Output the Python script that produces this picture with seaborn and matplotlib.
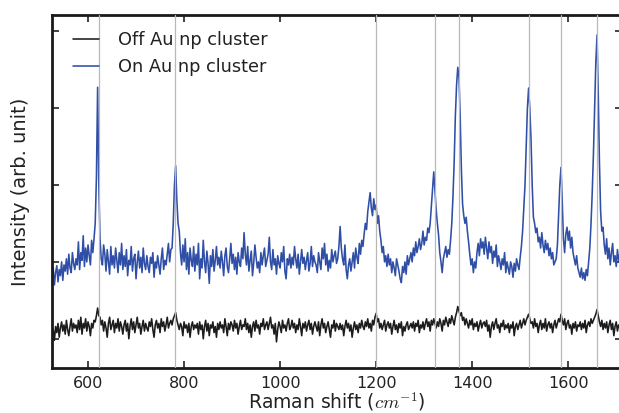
import numpy as np
import pandas as pd
import matplotlib
matplotlib.use("Agg")
import matplotlib.pyplot as plt
import seaborn as sns

# Raman shift grid (cm^-1), 2.5 cm^-1 steps
shift = np.arange(525, 1710.1, 2.5)

# Spectrum recorded on the Au nanoparticle cluster (arb. units)
on_cluster = [
    78, 92, 70, 86, 95, 74, 90, 82, 100, 76, 96, 88, 104, 84, 110, 92, 86, 112, 98, 90,
    104, 96, 126, 90, 112, 102, 134, 94, 118, 100, 122, 108, 96, 128, 112, 130, 150, 210, 327, 200,
    130, 104, 96, 122, 110, 88, 116, 100, 84, 120, 96, 108, 92, 118, 102, 86, 112, 96, 124, 90,
    108, 94, 116, 82, 102, 96, 120, 88, 104, 110, 78, 100, 114, 92, 106, 86, 118, 98, 90, 108,
    94, 86, 106, 98, 112, 80, 100, 92, 108, 96, 84, 104, 118, 90, 102, 96, 110, 124, 100, 116,
    118, 150, 200, 225, 180, 150, 140, 112, 96, 122, 100, 130, 90, 112, 84, 118, 102, 94, 120, 88,
    110, 96, 124, 78, 104, 92, 128, 100, 86, 114, 98, 72, 108, 94, 116, 88, 102, 120, 96, 106,
    92, 114, 100, 82, 108, 118, 94, 86, 104, 124, 98, 110, 90, 106, 84, 112, 100, 94, 118, 104,
    138, 110, 96, 120, 88, 102, 114, 82, 98, 122, 106, 92, 100, 86, 112, 96, 108, 118, 94, 102,
    110, 132, 100, 90, 116, 96, 104, 84, 108, 98, 92, 112, 100, 120, 88, 78, 104, 96, 110, 92,
    106, 96, 120, 104, 92, 110, 84, 100, 116, 98, 106, 90, 102, 112, 88, 98, 120, 94, 108, 100,
    96, 86, 112, 100, 90, 118, 104, 124, 96, 110, 88, 102, 92, 116, 100, 108, 114, 98, 104, 120,
    146, 118, 104, 96, 122, 90, 78, 96, 104, 88, 100, 112, 92, 118, 106, 98, 124, 110, 128, 120,
    136, 150, 142, 165, 178, 190, 170, 160, 182, 168, 174, 150, 160, 140, 128, 112, 120, 100, 108, 94,
    110, 96, 104, 86, 100, 92, 82, 104, 96, 88, 78, 73, 94, 86, 100, 84, 108, 96, 104, 112,
    100, 118, 108, 126, 112, 120, 130, 116, 124, 140, 122, 132, 128, 144, 138, 150, 172, 196, 217, 192,
    168, 150, 135, 112, 100, 86, 104, 112, 120, 106, 116, 110, 128, 150, 185, 230, 290, 330, 353, 340,
    290, 220, 175, 160, 150, 158, 140, 126, 110, 96, 104, 86, 100, 92, 112, 124, 108, 130, 118, 126,
    110, 132, 118, 104, 126, 112, 120, 98, 114, 106, 122, 94, 108, 100, 90, 104, 96, 112, 86, 100,
    92, 84, 100, 94, 80, 98, 88, 104, 96, 90, 106, 120, 140, 170, 200, 250, 300, 326, 300, 260,
    200, 158, 150, 138, 144, 126, 132, 118, 138, 122, 112, 128, 116, 124, 108, 118, 104, 112, 96, 100,
    104, 122, 160, 200, 223, 180, 130, 112, 136, 145, 128, 140, 118, 132, 112, 104, 96, 108, 92, 86,
    80, 92, 78, 86, 76, 90, 82, 100, 118, 150, 190, 240, 300, 360, 395, 320, 230, 165, 140, 145,
    122, 110, 130, 104, 118, 96, 112, 124, 100, 108, 94, 116, 102, 110, 98,
]

# Spectrum recorded away from the cluster (arb. units)
off_cluster = [
    4, 12, -2, 16, 8, 20, 2, 14, 22, 10, 18, 6, 24, 12, 4, 16, 26, 10, 20, 14,
    18, 8, 24, 12, 28, 6, 20, 14, 26, 10, 22, 16, 4, 20, 14, 24, 22, 30, 40, 30,
    28, 18, 24, 10, 22, 14, 2, 20, 28, 12, 18, 24, 8, 20, 14, 26, 10, 22, 16, 6,
    18, 24, 10, 20, 0, 16, 26, 12, 22, 8, 18, 28, 14, 20, 6, 16, 24, 10, 20, 14,
    10, 22, 16, 26, 12, 2, 18, 24, 14, 20, 8, 26, 16, 22, 10, 18, 28, 14, 20, 24,
    18, 26, 30, 34, 24, 18, 12, 20, 16, 4, 22, 14, 18, 8, 20, 2, 16, 22, 12, 18,
    14, 20, 6, 22, 12, 18, 0, 16, 24, 10, 20, 4, 18, 14, 22, 8, 16, 2, 20, 12,
    22, 14, 18, 8, 26, 16, 4, 20, 12, 22, 18, 10, 24, 14, 20, 6, 16, 24, 12, 18,
    16, 26, 12, 20, 8, 18, 2, 16, 22, 10, 24, 14, 18, 6, 20, 16, 26, 12, 18, 22,
    12, 20, 28, 14, 18, 6, 20, -4, 12, 22, 16, 8, 24, 14, 18, 10, 20, 26, 12, 16,
    24, 14, 20, 8, 18, 12, 26, 16, 4, 20, 14, 22, 10, 18, 24, 12, 20, 6, 16, 22,
    16, 10, 22, 4, 18, 26, 14, 20, 8, 16, 22, 12, 2, 18, 14, 24, 10, 20, 16, 12,
    20, 12, 18, 4, 16, 24, 14, 20, 10, 18, 2, 14, 22, 12, 18, 8, 20, 14, 24, 16,
    12, 22, 16, 26, 14, 20, 10, 24, 18, 28, 33, 22, 26, 14, 20, 12, 18, 24, 10, 18,
    22, 14, 20, 6, 16, 24, 12, 18, 8, 20, 14, 22, 4, 16, 10, 18, 22, 12, 16, 20,
    14, 22, 10, 20, 16, 24, 8, 18, 14, 22, 12, 20, 26, 16, 22, 10, 24, 18, 26, 20,
    14, 22, 16, 26, 20, 10, 24, 18, 28, 22, 16, 26, 20, 30, 24, 18, 28, 34, 42, 36,
    30, 34, 24, 28, 18, 26, 20, 14, 24, 18, 26, 12, 20, 16, 22, 10, 18, 24, 14, 20,
    22, 16, 24, 10, 18, 2, 16, 22, 12, 20, 26, 14, 18, 8, 20, 16, 24, 12, 18, 14,
    20, 8, 18, 14, 22, 4, 16, 20, 12, 18, 24, 14, 20, 26, 18, 24, 28, 32, 26, 20,
    22, 14, 26, 16, 20, 8, 18, 24, 12, 20, 14, 26, 10, 18, 22, 14, 20, 8, 18, 24,
    14, 20, 26, 22, 32, 24, 18, 26, 12, 20, 24, 14, 18, 6, 20, 14, 22, 10, 18, 16,
    22, 12, 20, 14, 24, 8, 18, 22, 16, 26, 20, 24, 28, 32, 38, 30, 22, 16, 24, 12,
    20, 14, 22, 8, 18, 24, 12, 20, 4, 16, 22, 10, 18, 14, 6,
]

# Marked Raman band positions (cm^-1)
bands = [622, 782, 1200, 1322, 1372, 1518, 1584, 1659]

x_ticks = [600, 800, 1000, 1200, 1400, 1600]
y_ticks = [0, 100, 200, 300, 400]

sns.set_style("ticks")
plt.rcParams["font.family"] = ["DejaVu Sans"]
plt.rcParams["mathtext.fontset"] = "cm"

df = pd.DataFrame({"shift": shift, "off": off_cluster, "on": on_cluster})

fig = plt.figure(figsize=(6.19, 4.13), dpi=100)
ax = fig.add_axes([52 / 619, 45 / 413, 570 / 619, 353 / 413])

sns.lineplot(data=df, x="shift", y="off", ax=ax, color="#1c1c1c", lw=1.15,
             estimator=None, label="Off Au np cluster")
sns.lineplot(data=df, x="shift", y="on", ax=ax, color="#2f4ea6", lw=1.15,
             estimator=None, label="On Au np cluster")

for b in bands:
    ax.axvline(b, color="#b8b8b8", lw=0.9, zorder=3)

ax.set_xlim(525, 1712)
ax.set_ylim(-38, 421)
ax.set_xticks(x_ticks)
ax.set_yticks(y_ticks)
ax.set_yticklabels([])
ax.tick_params(direction="in", top=True, right=True, length=5, width=1.2,
               labelsize=11.5, colors="#222222", pad=6)
for s in ax.spines.values():
    s.set_linewidth(2.0)
    s.set_color("#1a1a1a")

ax.set_xlabel("Raman shift ($cm^{-1}$)", fontsize=13.5, color="#222222", labelpad=-1)
ax.set_ylabel("Intensity (arb. unit)", fontsize=14, color="#222222", labelpad=10)

leg = ax.legend(loc="upper left", frameon=False, fontsize=12.8,
                handlelength=1.45, handletextpad=1.05, labelspacing=0.5,
                borderaxespad=0.7, borderpad=0.5, bbox_to_anchor=(0, 1.014))
for t in leg.get_texts():
    t.set_color("#222222")

fig.savefig("out.png", dpi=100, facecolor="white")
